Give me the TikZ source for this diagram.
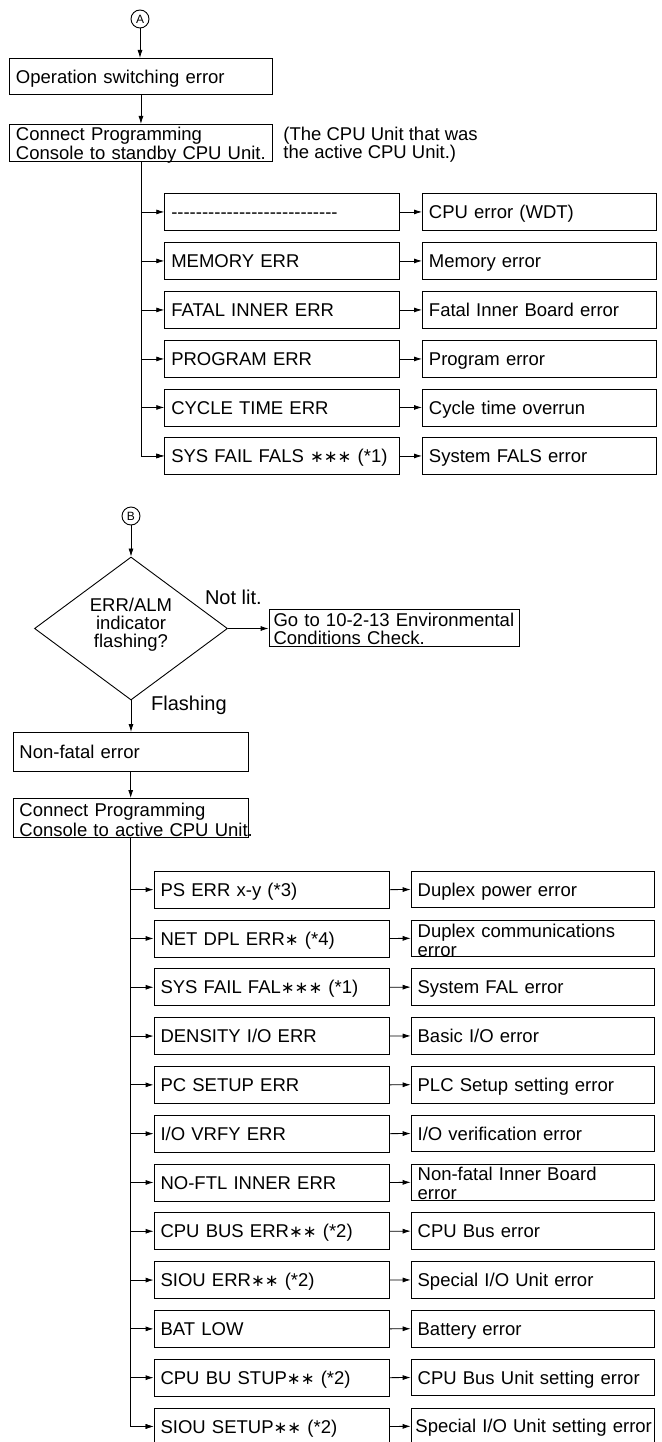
\documentclass[tikz,border=0pt]{standalone}
\usepackage{fontspec}
\setmainfont{Liberation Sans}
\newfontfamily\symfont{DejaVu Sans}
\usetikzlibrary{arrows.meta,shapes.geometric}
\newcommand\stars[1]{{\symfont\fontsize{16.5}{16}\selectfont #1}}
\newcommand\dashrow{\foreach \k in {1,...,27}{\mbox{-}}}
\newcommand\urow[4]{%
  \node[box,lbox] (#1L) at (164.3,#2) {\mbox{#3}};
  \node[box,urbox] (#1R) at (422,#2) {\mbox{#4}};
  \draw[arr] (conn1.south |- #1L.west) -- (#1L.west);
  \draw[arr] (#1L.east) -- (#1R.west);}
\newcommand\lrow[5]{%
  \node[box,lbox] (#1L) at (153.6,#2) {#3};
  \node[box,lrbox,#5] (#1R) at (410.7,#2) {#4};
  \draw[arr] (conn2.south |- #1L.west) -- (#1L.west);
  \draw[arr] (#1L.east) -- (#1R.west);}
\begin{document}
\begin{tikzpicture}[x=1pt,y=-1pt,line width=0.9pt,
  arr/.style={-{Latex[length=8pt,width=5pt]},line width=0.8pt},
  box/.style={draw,rectangle,anchor=north west,inner ysep=0pt,inner xsep=6.5pt,
    align=left,font=\fontsize{18.5}{19}\selectfont,text height=13.2pt,text depth=0pt},
  lbox/.style={text width=222pt,minimum height=37pt},
  urbox/.style={text width=221.4pt,minimum height=37pt},
  lrbox/.style={text width=230.6pt,minimum height=36.7pt},
  conn/.style={draw,circle,minimum size=18pt,inner sep=0pt,font=\fontsize{12}{12}\selectfont},
  lbl/.style={anchor=west,inner sep=0pt,font=\fontsize{20}{20}\selectfont},
  ]
\path[fill=white] (0,0) rectangle (661,1442);
\useasboundingbox (0,0) rectangle (661,1442);

% ---------- upper part ----------
\node[conn] (cA) at (140,19) {A};
\node[box,text width=250pt,minimum height=36pt] (op) at (9,58) {Operation switching error};
\node[box,text width=250pt,minimum height=37pt,text height=13.2pt,text depth=19pt]
  (conn1) at (9,124) {\mbox{Connect Programming}\\\mbox{Console to standby CPU Unit.}};
\node[anchor=north west,inner sep=0pt,align=left,font=\fontsize{18.5}{18}\selectfont,
  text height=31.2pt,text depth=0pt] (note) at (283,126.4)
  {(The CPU Unit that was\\the active CPU Unit.)};
\draw[arr] (cA.south) -- (cA.south |- op.north);
\draw[arr] (op.south) -- (conn1.north);

\urow{u1}{193}{\dashrow}{CPU error (WDT)}
\urow{u2}{242}{MEMORY ERR}{Memory error}
\urow{u3}{291}{FATAL INNER ERR}{Fatal Inner Board error}
\urow{u4}{340}{PROGRAM ERR}{Program error}
\urow{u5}{388.5}{CYCLE TIME ERR}{Cycle time overrun}
\urow{u6}{437}{SYS FAIL FALS \stars{∗∗∗} (*1)}{System FALS error}
\draw[arr] (conn1.south) |- (u6L.west);

% ---------- lower part ----------
\node[conn] (cB) at (131,516) {B};
\node[draw,diamond,minimum width=193pt,minimum height=143pt,inner sep=0pt,align=center,
  font=\fontsize{18.5}{18}\selectfont,text height=38.2pt,text depth=0pt]
  (dia) at (131,628.5) {ERR/ALM\\indicator\\flashing?};
\draw[arr] (cB.south) -- (dia.north);
\node[lbl] (notlit) at (204.6,597) {Not lit.};
\node[box,text width=241.4pt,minimum height=37pt,inner xsep=4.5pt,
  font=\fontsize{18.5}{18}\selectfont,text height=14.2pt,text depth=18pt]
  (go) at (268.6,609) {\mbox{Go to 10-2-13 Environmental}\\Conditions Check.};
\draw[arr] (dia.east) -- (dia.east -| go.west);
\node[lbl] (flash) at (150.7,705) {Flashing};
\node[box,text width=222.5pt,minimum height=39pt] (nf) at (12.5,732) {Non-fatal error};
\draw[arr] (dia.south) -- (dia.south |- nf.north);
\node[box,text width=222.5pt,minimum height=39pt,font=\fontsize{18.5}{20}\selectfont,
  text height=16.2pt,text depth=20pt]
  (conn2) at (12.5,798) {\mbox{Connect Programming}\\\mbox{Console to active CPU Unit.}};
\draw[arr] (nf.south) -- (conn2.north);

\lrow{l1}{870.7}{PS ERR x-y (*3)}{Duplex power error}{}
\lrow{l2}{919.5}{NET DPL ERR\stars{∗} (*4)}{Duplex communications\\error}{text height=17pt,text depth=19pt}
\lrow{l3}{968.3}{SYS FAIL FAL\stars{∗∗∗} (*1)}{System FAL error}{}
\lrow{l4}{1017.1}{DENSITY I/O ERR}{Basic I/O error}{}
\lrow{l5}{1065.9}{PC SETUP ERR}{PLC Setup setting error}{}
\lrow{l6}{1114.7}{I/O VRFY ERR}{I/O verification error}{}
\lrow{l7}{1163.5}{NO-FTL INNER ERR}{Non-fatal Inner Board\\error}{text height=15pt,text depth=19pt}
\lrow{l8}{1212.3}{CPU BUS ERR\stars{∗∗} (*2)}{CPU Bus error}{}
\lrow{l9}{1261.1}{SIOU ERR\stars{∗∗} (*2)}{Special I/O Unit error}{}
\lrow{l10}{1309.9}{BAT LOW}{Battery error}{}
\lrow{l11}{1358.7}{CPU BU STUP\stars{∗∗} (*2)}{\mbox{CPU Bus Unit setting error}}{}
\lrow{l12}{1407.5}{SIOU SETUP\stars{∗∗} (*2)}{\mbox{Special I/O Unit setting error}}{inner xsep=4.3pt,text width=235pt}
\draw[arr] (conn2.south) |- (l12L.west);
\end{tikzpicture}
\end{document}
